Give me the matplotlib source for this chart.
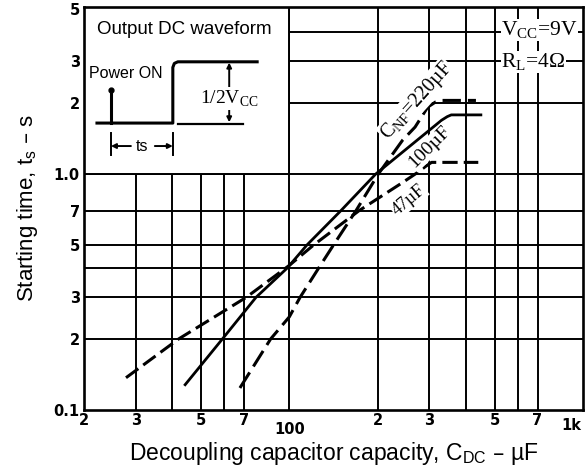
import matplotlib
matplotlib.use("Agg")
import matplotlib.pyplot as plt
from matplotlib.patches import Rectangle
import matplotlib.transforms as mtransforms

# ---------------- data ----------------
x_47 = [27.8, 42, 71.3, 100, 121, 173, 243, 275, 292, 305, 440]
y_47 = [0.137, 0.2, 0.3, 0.41, 0.5, 0.7, 0.92, 1.02, 1.08, 1.12, 1.12]

x_100 = [44.2, 59.2, 77, 98.5, 114.8, 150, 197, 330, 345, 356, 449]
y_100 = [0.128, 0.2, 0.3, 0.4, 0.5, 0.7, 1.0, 1.69, 1.75, 1.78, 1.78]

x_220 = [67.9, 86.4, 100, 108.8, 126, 141.4, 168.8, 201, 243, 268, 296, 315, 330, 432]
y_220 = [0.124, 0.2, 0.248, 0.3, 0.4, 0.5, 0.7, 1.0, 1.39, 1.58, 1.92, 2.02, 2.05, 2.05]

x_minor_ticks = [20, 30, 50, 70, 200, 300, 500, 700]
x_minor_labels = ['2', '3', '5', '7', '2', '3', '5', '7']
x_major_ticks = [100, 1000]
x_major_labels = ['100', '1k']
y_ticks = [0.1, 0.2, 0.3, 0.5, 0.7, 1.0, 2, 3, 5]
y_labels = ['0.1', '2', '3', '5', '7', '1.0', '2', '3', '5']
x_grid = [30, 40, 50, 60, 70, 100, 200, 300, 400, 500, 600, 700]
y_grid = [0.2, 0.3, 0.4, 0.5, 0.7, 1.0, 2, 3, 4]

# ---------------- figure ----------------
fig = plt.figure(figsize=(5.87, 4.66), dpi=100)
ax = fig.add_axes([84/587, 56/466, 499/587, 403/466])
ax.set_xscale('log')
ax.set_yscale('log')
ax.set_xlim(20, 1000)
ax.set_ylim(0.1, 5.1)

for v in x_grid:
    ax.axvline(v, color='black', lw=1.4, zorder=1)
for v in y_grid:
    ax.axhline(v, color='black', lw=1.4, zorder=1)

# inset (white region covering the grid)
ax.add_patch(Rectangle((20, 1.0), 80, 4.1, facecolor='white', edgecolor='black',
                       lw=1.4, zorder=1.5))

for s in ax.spines.values():
    s.set_linewidth(1.9)
    s.set_zorder(5)

# curves
ax.plot(x_47, y_47, color='black', lw=2.2, dashes=(5, 2), zorder=3,
        dash_capstyle='butt')
ax.plot(x_100, y_100, color='black', lw=2.0, zorder=3)
ax.plot(x_220, y_220, color='black', lw=2.2, dashes=(6, 2.3), zorder=3,
        dash_capstyle='butt')

# ticks
tickfont = dict(family=['DejaVu Sans'], weight='bold', size=10.5)
ax.xaxis.set_major_locator(matplotlib.ticker.FixedLocator(x_major_ticks))
ax.xaxis.set_minor_locator(matplotlib.ticker.FixedLocator(x_minor_ticks))
ax.set_xticklabels(x_major_labels, **tickfont)
ax.set_xticklabels(x_minor_labels, minor=True, **tickfont)
ax.tick_params(axis='x', which='major', length=0, pad=9)
ax.tick_params(axis='x', which='minor', length=0, pad=2)
ax.yaxis.set_major_locator(matplotlib.ticker.FixedLocator(y_ticks))
ax.yaxis.set_minor_locator(matplotlib.ticker.NullLocator())
ax.set_yticklabels(y_labels, **tickfont)
ax.tick_params(axis='y', which='both', length=0, pad=3)
lbl_1k = ax.get_xticklabels()[1]
lbl_1k.set_horizontalalignment('right')
lbl_1k.set_transform(lbl_1k.get_transform() +
                     mtransforms.ScaledTranslation(-1.5/72, 3/72, fig.dpi_scale_trans))

sans = ['Liberation Sans', 'DejaVu Sans']
serif = ['Liberation Serif', 'DejaVu Serif']
ax.set_xlabel(r'Decoupling capacitor capacity, C$_\mathregular{DC}$ – µF',
              family=sans, size=16.5, labelpad=2)
ax.set_ylabel(r'Starting time, t$_\mathregular{s}$ – s', family=sans, size=16,
              labelpad=10)

# curve labels
wb = dict(facecolor='white', edgecolor='none', pad=0.5)
ax.text(272, 2.04, r'C$_\mathregular{NF}$=220µF', family=serif, size=14.5,
        rotation=48, ha='center', va='center', zorder=4, bbox=wb)
ax.text(301, 1.30, '100µF', family=serif, size=14, rotation=45,
        ha='center', va='center', zorder=4, bbox=wb)
ax.text(255, 0.776, '47µF', family=serif, size=13, rotation=40,
        ha='center', va='center', zorder=4, bbox=wb)

# conditions
ax.text(0.836, 0.943, r'V$_\mathregular{CC}$=9V', transform=ax.transAxes,
        family=serif, size=15.5, ha='left', va='center', zorder=4, bbox=wb)
ax.text(0.836, 0.8635, r'R$_\mathregular{L}$=4Ω', transform=ax.transAxes,
        family=serif, size=15.5, ha='left', va='center', zorder=4, bbox=wb)

# inset illustration (axes fraction coordinates)
T = ax.transAxes
ax.text(0.202, 0.943, 'Output DC waveform', transform=T, family=sans, size=13.5,
        ha='center', va='center', zorder=4)
ax.text(0.084, 0.836, 'Power ON', transform=T, family=sans, size=11.5,
        ha='center', va='center', zorder=4)
wave_x = [0.026, 0.178, 0.178, 0.181, 0.188, 0.347]
wave_y = [0.712, 0.712, 0.850, 0.860, 0.864, 0.864]
ax.plot(wave_x, wave_y, transform=T, color='black', lw=2.2, zorder=4,
        solid_joinstyle='round')
ax.plot([0.188, 0.319], [0.710, 0.710], transform=T, color='black', lw=1.6, zorder=4)
ax.plot([0.054, 0.054], [0.712, 0.785], transform=T, color='black', lw=2.2, zorder=4)
ax.plot([0.054], [0.795], transform=T, marker='o', ms=3.5, color='black', zorder=4)
for xx in [0.054, 0.178]:
    ax.plot([xx, xx], [0.633, 0.687], transform=T, color='black', lw=1.4, zorder=4)
ax.annotate('', xy=(0.054, 0.655), xytext=(0.094, 0.655), xycoords=T, textcoords=T,
            arrowprops=dict(arrowstyle='-|>', color='black', lw=1.4,
                            mutation_scale=7, shrinkA=0, shrinkB=0), zorder=4)
ax.annotate('', xy=(0.178, 0.655), xytext=(0.142, 0.655), xycoords=T, textcoords=T,
            arrowprops=dict(arrowstyle='-|>', color='black', lw=1.4,
                            mutation_scale=7, shrinkA=0, shrinkB=0), zorder=4)
ax.text(0.117, 0.655, 'ts', transform=T, family=sans, size=11.5,
        ha='center', va='center', zorder=4)
ax.annotate('', xy=(0.291, 0.862), xytext=(0.291, 0.714), xycoords=T, textcoords=T,
            arrowprops=dict(arrowstyle='<|-|>', color='black', lw=1.4,
                            mutation_scale=7, shrinkA=0, shrinkB=0), zorder=4)
ax.text(0.291, 0.772, r'1/2V$_\mathregular{CC}$', transform=T, family=serif,
        size=14, ha='center', va='center', zorder=5,
        bbox=dict(facecolor='white', edgecolor='none', pad=1))

fig.savefig('out.png', dpi=100)
